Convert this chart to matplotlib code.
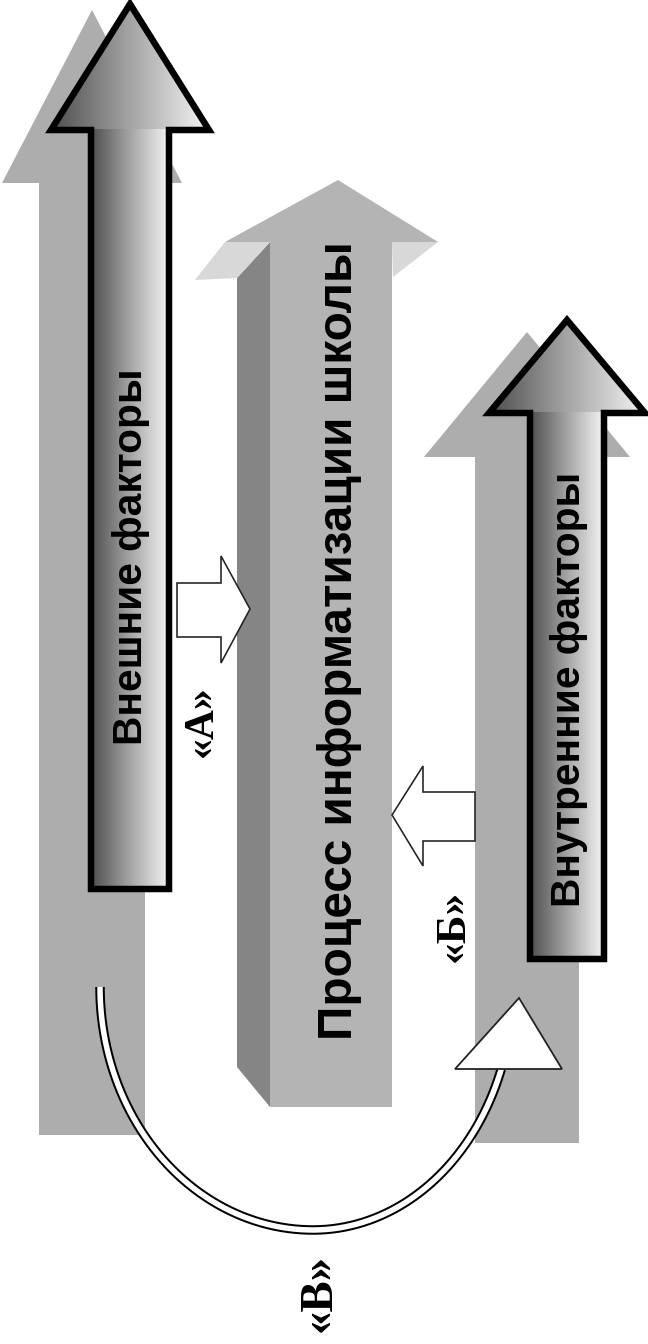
import matplotlib
matplotlib.use('Agg')
import matplotlib.pyplot as plt
import numpy as np
from matplotlib.patches import Polygon
from matplotlib.colors import LinearSegmentedColormap

W, H, DPI = 648, 1344, 100

# texts of the diagram
main_labels = ["Внешние факторы", "Процесс информатизации школы", "Внутренние факторы"]
link_labels = ["«А»", "«Б»", "«В»"]

GRAY = '#adadad'
FRONT = '#b4b4b4'
SIDE = '#858585'
UNDER = '#d8d8d8'

fig = plt.figure(figsize=(W / DPI, H / DPI), dpi=DPI)
ax = fig.add_axes([0, 0, 1, 1])
ax.set_xlim(0, W)
ax.set_ylim(H, 0)
ax.axis('off')


def pt(v):
    return v * 72 / DPI


def arrow_pts(cx, apex_y, head_y, head_hw, body_hw, bottom_y):
    return [(cx, apex_y), (cx + head_hw, head_y), (cx + body_hw, head_y),
            (cx + body_hw, bottom_y), (cx - body_hw, bottom_y),
            (cx - body_hw, head_y), (cx - head_hw, head_y)]


# ---- background gray arrows
for cx, ay, hy, hhw, bhw, by in [(92, 10, 183, 90, 53, 1135),
                                  (527, 332, 457, 103, 52, 1143)]:
    ax.add_patch(Polygon(arrow_pts(cx, ay, hy, hhw, bhw, by), closed=True,
                         facecolor=GRAY, edgecolor='none', zorder=1))

# ---- middle 3D arrow
ax.add_patch(Polygon([(237, 278), (270, 242), (270, 1107), (237, 1067)],
                     facecolor=SIDE, edgecolor='none', zorder=2))
ax.add_patch(Polygon([(270, 242), (392, 242), (392, 1107), (270, 1107)],
                     facecolor=FRONT, edgecolor='none', zorder=2))
ax.add_patch(Polygon([(195, 280), (225, 242), (270, 242), (237, 278)],
                     facecolor=UNDER, edgecolor='none', zorder=2))
ax.add_patch(Polygon([(392, 242), (438, 242), (393, 277)],
                     facecolor=UNDER, edgecolor='none', zorder=2))
ax.add_patch(Polygon([(225, 242), (438, 242), (338, 180)],
                     facecolor=FRONT, edgecolor='none', zorder=2))

# ---- gradient arrows with black outline
cmap = LinearSegmentedColormap.from_list('g', ['#4e4e4e', '#a4a4a4', '#f4f4f4'])
grad = np.linspace(0, 1, 256)[None, :]


def grad_arrow(cx, ay, hy, hhw, bhw, by):
    head = Polygon([(cx, ay), (cx + hhw, hy), (cx - hhw, hy)], closed=True,
                   facecolor='none', edgecolor='none', zorder=3)
    body = Polygon([(cx - bhw, hy - 1), (cx + bhw, hy - 1), (cx + bhw, by), (cx - bhw, by)],
                   closed=True, facecolor='none', edgecolor='none', zorder=3)
    ax.add_patch(head)
    ax.add_patch(body)
    im1 = ax.imshow(grad, cmap=cmap, extent=(cx - hhw, cx + hhw, hy, ay),
                    aspect='auto', zorder=3, interpolation='bilinear')
    im1.set_clip_path(head)
    im2 = ax.imshow(grad, cmap=cmap, extent=(cx - bhw, cx + bhw, by, hy - 1),
                    aspect='auto', zorder=3, interpolation='bilinear')
    im2.set_clip_path(body)
    ax.add_patch(Polygon(arrow_pts(cx, ay, hy, hhw, bhw, by), closed=True,
                         facecolor='none', edgecolor='black', lw=pt(6.5),
                         joinstyle='miter', zorder=4))


grad_arrow(130, 4, 130, 79, 39, 889)
grad_arrow(567, 320, 413, 78, 37, 959)

# ---- small hollow arrows
ax.add_patch(Polygon([(177, 583), (221, 583), (221, 556), (250, 609), (221, 663),
                      (221, 637), (177, 637)], closed=True, facecolor='white',
                     edgecolor='#222222', lw=pt(1.6), zorder=5))
ax.add_patch(Polygon([(475, 792), (423, 792), (423, 766), (392, 815), (423, 866),
                      (423, 841), (475, 841)], closed=True, facecolor='white',
                     edgecolor='#222222', lw=pt(1.6), zorder=5))

# ---- curved arrow «В»
cx, cy, bb = 313, 987, 243
t1 = np.linspace(np.pi, np.pi / 2, 200)
t2 = np.linspace(np.pi / 2, np.arcsin(82 / bb), 200)
xs = np.concatenate([cx + 213 * np.cos(t1), cx + 200 * np.cos(t2)])
ys = np.concatenate([cy + bb * np.sin(t1), cy + bb * np.sin(t2)])
ax.plot(xs, ys, color='black', lw=pt(9.5), solid_capstyle='butt', zorder=5)
ax.plot(xs, ys, color='white', lw=pt(5.5), solid_capstyle='butt', zorder=5)
ax.add_patch(Polygon([(455, 1069), (562, 1069), (519, 998)], closed=True,
                     facecolor='white', edgecolor='#222222', lw=pt(1.8), zorder=6))

# ---- texts
renderer = fig.canvas.get_renderer()


def fit_text(x, y, s, length, va='center', **kw):
    t = ax.text(x, y, s, rotation=90, ha='center', va=va, fontsize=20,
                zorder=7, **kw)
    h = t.get_window_extent(renderer=renderer).height
    t.set_fontsize(20 * length / h)
    return t


sans = dict(family='Liberation Sans', fontweight='bold', color='black')
t_out = fit_text(131, 557, main_labels[0], 375, **sans)
fs = t_out.get_fontsize()
fit_text(340, 641, main_labels[1], 798, **sans)
ax.text(569, 907, main_labels[2], rotation=90, ha='center', va='bottom',
        fontsize=fs, zorder=7, **sans)

serif = dict(family='Liberation Serif', fontweight='bold', color='black')
fit_text(202, 721, link_labels[0], 72, **serif)
fit_text(454, 926, link_labels[1], 72, **serif)
fit_text(320, 1293, link_labels[2], 78, **serif)

fig.savefig('out.png', dpi=DPI, facecolor='white')
